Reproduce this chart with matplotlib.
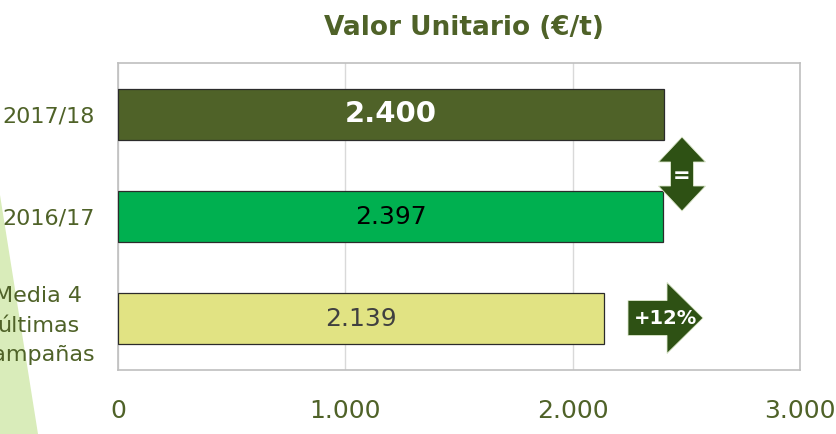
import matplotlib
matplotlib.use("Agg")
import matplotlib.pyplot as plt
from matplotlib.patches import Polygon

# ---- data ----
categories = ["2017/18", "2016/17", "Media 4\núltimas\ncampañas"]
values = [2400, 2397, 2139]
value_labels = ["2.400", "2.397", "2.139"]
bar_colors = ["#4F6228", "#00B050", "#E1E383"]
label_colors = ["white", "black", "#404040"]
label_weights = ["bold", "normal", "normal"]
label_sizes = [21, 18, 18]
xticks = [0, 1000, 2000, 3000]
xtick_labels = ["0", "1.000", "2.000", "3.000"]
title = "Valor Unitario (€/t)"
arrow_texts = ["=", "+12%"]

W, H = 836, 434
olive = "#4F6228"
arrow_col = "#2E5114"

fig = plt.figure(figsize=(W / 100, H / 100), dpi=100)
fig.patch.set_facecolor("white")

# axes placement (pixels -> fractions)
L, R, T, B = 118, 800, 63, 370
ax = fig.add_axes([L / W, 1 - B / H, (R - L) / W, (B - T) / H])

ypos = list(range(len(categories)))
ax.barh(ypos, values, height=0.5, color=bar_colors, edgecolor="#2B2B2B",
        linewidth=0.9, zorder=3)
for y, v, t, c, w, s in zip(ypos, values, value_labels, label_colors,
                            label_weights, label_sizes):
    ax.text(v / 2, y, t, ha="center", va="center", color=c,
            fontweight=w, fontsize=s, zorder=4)

ax.set_xlim(0, 3000)
ax.set_ylim(2.5, -0.5)
ax.set_xticks(xticks)
ax.set_xticklabels(xtick_labels, fontsize=18, color=olive)
ax.set_yticks(ypos)
ax.set_yticklabels(categories, fontsize=16, color=olive,
                   multialignment="center", linespacing=1.6)
ax.tick_params(axis="x", length=0, pad=21)
ax.tick_params(axis="y", length=0, pad=16.5)
ax.grid(axis="x", color="#D9D9D9", linewidth=1.0, zorder=0)
ax.set_axisbelow(True)
for sp in ax.spines.values():
    sp.set_color("#BFBFBF")
    sp.set_linewidth(1.2)

# title
fig.text(464 / W, 1 - 28 / H, title, ha="center", va="center",
         fontsize=19, fontweight="bold", color=olive)


def px(pts):
    return [(x / W, 1 - y / H) for x, y in pts]


# light green decorative wedge at left
wedge = Polygon(px([(0, 195), (38, 434), (0, 434)]), closed=True,
                transform=fig.transFigure, facecolor="#D9ECBA",
                edgecolor="none", zorder=-1)
fig.patches.append(wedge)

# up-down arrow
cx, top, bot = 682, 137, 211
hw, sw, hl = 23.5, 11.5, 25
ud = [(cx, top), (cx + hw, top + hl), (cx + sw, top + hl), (cx + sw, bot - hl),
      (cx + hw, bot - hl), (cx, bot), (cx - hw, bot - hl), (cx - sw, bot - hl),
      (cx - sw, top + hl), (cx - hw, top + hl)]
fig.patches.append(Polygon(px(ud), closed=True, transform=fig.transFigure,
                           facecolor=arrow_col, edgecolor="#DDE8CC",
                           linewidth=0.6, zorder=5))
fig.text(cx / W, 1 - 176 / H, arrow_texts[0], ha="center", va="center",
         color="white", fontweight="bold", fontsize=15, zorder=6)

# right arrow
lx, rx, cy, hs, hh, hx = 628, 703, 318, 17.5, 35.5, 667
ra = [(lx, cy - hs), (hx, cy - hs), (hx, cy - hh), (rx, cy), (hx, cy + hh),
      (hx, cy + hs), (lx, cy + hs)]
fig.patches.append(Polygon(px(ra), closed=True, transform=fig.transFigure,
                           facecolor=arrow_col, edgecolor="#DDE8CC",
                           linewidth=0.6, zorder=5))
fig.text(665 / W, 1 - 318 / H, arrow_texts[1], ha="center", va="center",
         color="white", fontweight="bold", fontsize=14, zorder=6)

fig.savefig("out.png", dpi=100)
